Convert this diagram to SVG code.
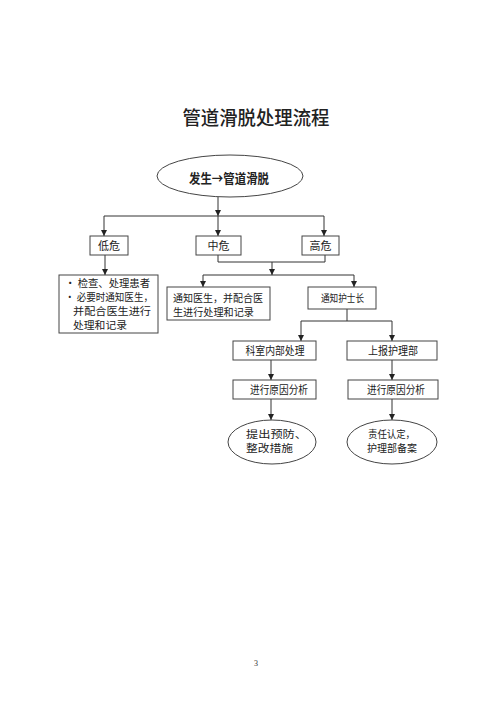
<svg xmlns="http://www.w3.org/2000/svg" width="500" height="707" viewBox="0 0 500 707">
<defs>
<style>
.t{font-family:"Noto Sans CJK SC","Liberation Serif",serif;fill:#222;}
.box{fill:#fff;stroke:#444;stroke-width:1;}
.ln{fill:none;stroke:#333;stroke-width:1;}
</style>
<marker id="ar" viewBox="0 0 8 8" refX="8" refY="4" markerWidth="6" markerHeight="6" orient="auto" markerUnits="userSpaceOnUse">
<path d="M0,0 L8,4 L0,8 z" fill="#222"/>
</marker>
</defs>
<rect width="500" height="707" fill="#fff"/>
<text class="t" x="256" y="125" font-size="19" font-weight="500" text-anchor="middle" textLength="147" lengthAdjust="spacingAndGlyphs" fill="#111">管道滑脱处理流程</text>

<g id="connectors">
<path class="ln" d="M218,197 V216" marker-end="url(#ar)"/>
<path class="ln" d="M104,216 H324"/>
<path class="ln" d="M104,216 V236" marker-end="url(#ar)"/>
<path class="ln" d="M218,216 V236" marker-end="url(#ar)"/>
<path class="ln" d="M324,216 V236" marker-end="url(#ar)"/>
<path class="ln" d="M105,255 V275" marker-end="url(#ar)"/>
<path class="ln" d="M218,255 V262 H325 V255"/>
<path class="ln" d="M272,262 V275" marker-end="url(#ar)"/>
<path class="ln" d="M203,275 H354"/>
<path class="ln" d="M203,275 V287" marker-end="url(#ar)"/>
<path class="ln" d="M354,275 V287" marker-end="url(#ar)"/>
<path class="ln" d="M347,309 V321"/>
<path class="ln" d="M301,321 H392"/>
<path class="ln" d="M301,321 V341" marker-end="url(#ar)"/>
<path class="ln" d="M392,321 V341" marker-end="url(#ar)"/>
<path class="ln" d="M271,360 V380" marker-end="url(#ar)"/>
<path class="ln" d="M392,360 V380" marker-end="url(#ar)"/>
<path class="ln" d="M271,399 V420" marker-end="url(#ar)"/>
<path class="ln" d="M392,399 V420" marker-end="url(#ar)"/>
</g>

<g id="start">
<ellipse class="box" cx="230" cy="176" rx="73" ry="21"/>
<text class="t" x="229" y="183" font-size="13" font-weight="bold" text-anchor="middle" textLength="80" lengthAdjust="spacingAndGlyphs" fill="#111">发生→管道滑脱</text>
</g>

<g id="low">
<rect class="box" x="90" y="236" width="38" height="19"/>
<text class="t" x="109" y="250" font-size="11" text-anchor="middle">低危</text>
</g>
<g id="mid">
<rect class="box" x="196" y="236" width="45" height="19"/>
<text class="t" x="218.5" y="250" font-size="11" text-anchor="middle">中危</text>
</g>
<g id="high">
<rect class="box" x="302" y="236" width="37" height="19"/>
<text class="t" x="320.5" y="250" font-size="11" text-anchor="middle">高危</text>
</g>

<g id="low-action">
<rect class="box" x="59" y="275" width="99" height="58"/>
<text class="t" x="65" y="287" font-size="10.5" textLength="85" lengthAdjust="spacingAndGlyphs">• 检查、处理患者</text>
<text class="t" x="65" y="301" font-size="10.5" textLength="88" lengthAdjust="spacingAndGlyphs">• 必要时通知医生，</text>
<text class="t" x="73" y="315" font-size="10.5" textLength="78" lengthAdjust="spacingAndGlyphs">并配合医生进行</text>
<text class="t" x="73" y="329" font-size="10.5" textLength="54" lengthAdjust="spacingAndGlyphs">处理和记录</text>
</g>

<g id="notify-doctor">
<rect class="box" x="167" y="287" width="103" height="33"/>
<text class="t" x="173" y="302" font-size="10.5" textLength="90" lengthAdjust="spacingAndGlyphs">通知医生，并配合医</text>
<text class="t" x="173" y="316" font-size="10.5" textLength="81" lengthAdjust="spacingAndGlyphs">生进行处理和记录</text>
</g>

<g id="notify-nurse">
<rect class="box" x="308" y="287" width="68" height="22"/>
<text class="t" x="342.5" y="302" font-size="10.5" text-anchor="middle" textLength="43" lengthAdjust="spacingAndGlyphs">通知护士长</text>
</g>

<g id="dept">
<rect class="box" x="233" y="341" width="83" height="19"/>
<text class="t" x="275" y="355" font-size="11" text-anchor="middle" textLength="59" lengthAdjust="spacingAndGlyphs">科室内部处理</text>
</g>
<g id="report">
<rect class="box" x="347" y="341" width="90" height="19"/>
<text class="t" x="393" y="355" font-size="11" text-anchor="middle" textLength="50" lengthAdjust="spacingAndGlyphs">上报护理部</text>
</g>

<g id="analysis-left">
<rect class="box" x="233" y="380" width="83" height="19"/>
<text class="t" x="279" y="394" font-size="11" text-anchor="middle" textLength="58" lengthAdjust="spacingAndGlyphs">进行原因分析</text>
</g>
<g id="analysis-right">
<rect class="box" x="348" y="380" width="90" height="19"/>
<text class="t" x="396" y="394" font-size="11" text-anchor="middle" textLength="58" lengthAdjust="spacingAndGlyphs">进行原因分析</text>
</g>

<g id="prevent">
<ellipse class="box" cx="272" cy="442" rx="44" ry="22"/>
<text class="t" x="246" y="438" font-size="10.5" textLength="61" lengthAdjust="spacingAndGlyphs">提出预防、</text>
<text class="t" x="246" y="452" font-size="10.5" textLength="47" lengthAdjust="spacingAndGlyphs">整改措施</text>
</g>
<g id="record">
<ellipse class="box" cx="392" cy="442" rx="45" ry="22"/>
<text class="t" x="368" y="438" font-size="10.5" textLength="47" lengthAdjust="spacingAndGlyphs">责任认定，</text>
<text class="t" x="367" y="452" font-size="10.5" textLength="50" lengthAdjust="spacingAndGlyphs">护理部备案</text>
</g>

<text x="256" y="666" font-family="Liberation Serif, serif" font-size="8" text-anchor="middle" fill="#333">3</text>
</svg>
